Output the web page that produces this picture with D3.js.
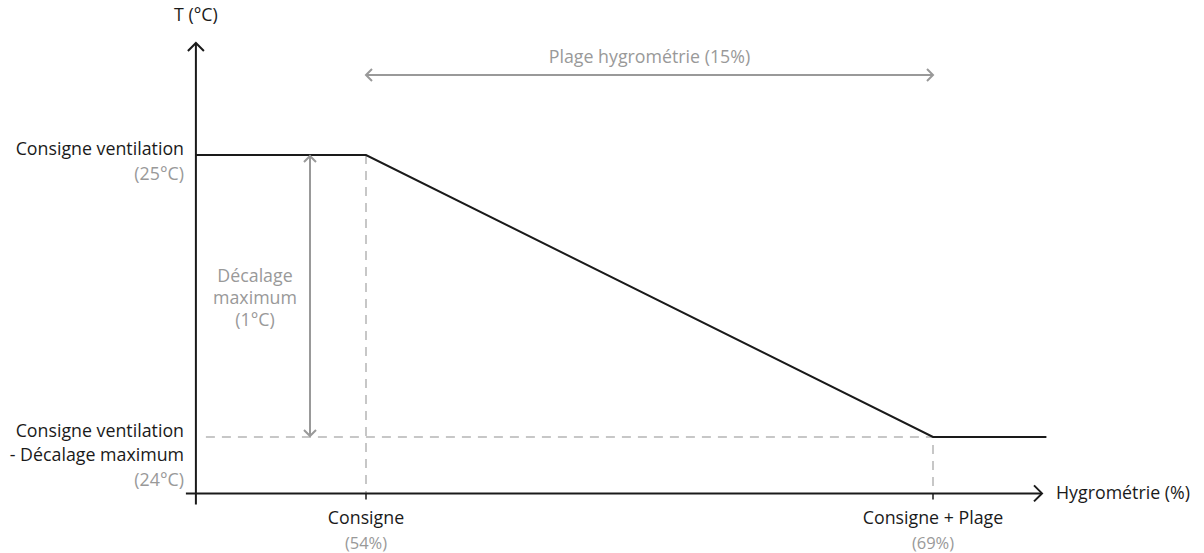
<!DOCTYPE html>
<html>
<head>
<meta charset="utf-8">
<script src="https://cdn.jsdelivr.net/npm/d3@7"></script>
<style>
  html, body { margin: 0; padding: 0; background: #fff; }
  svg { display: block; }
  text { font-family: "Open Sans", "Noto Sans", sans-serif; font-size: 17.8px; }
</style>
</head>
<body>
<svg id="chart" width="1204" height="553"></svg>
<script>
// Temperature setpoint versus humidity
const hygro = [49.5, 54, 69, 72];          // %
const temp  = [25, 25, 24, 24];            // °C
const xTicks = [54, 69];
const xTickLabels = ["Consigne", "Consigne + Plage"];
const xTickValues = ["(54%)", "(69%)"];
const yLevels = [25, 24];
const yLabels = [["Consigne ventilation"], ["Consigne ventilation", "- Décalage maximum"]];
const yValues = ["(25°C)", "(24°C)"];
const rangeLabel = "Plage hygrométrie (15%)";
const offsetLabel = ["Décalage", "maximum", "(1°C)"];

const svg = d3.select("#chart");
const x = d3.scaleLinear().domain([54, 69]).range([366, 933]);
const y = d3.scaleLinear().domain([25, 24]).range([155, 437]);

const x0 = x(49.5);            // vertical axis position
const yAxisPos = y(23.8);      // horizontal axis position
const dark = "#1a1a1a", grey = "#999", light = "#b5b5b5";

function chevron(px, py, dir, color, size) {
  // open arrow head pointing in direction dir ("up","right","left","down")
  const s = size;
  let pts;
  if (dir === "up") pts = [[px - s, py + s], [px, py], [px + s, py + s]];
  if (dir === "down") pts = [[px - s, py - s], [px, py], [px + s, py - s]];
  if (dir === "right") pts = [[px - s, py - s], [px, py], [px - s, py + s]];
  if (dir === "left") pts = [[px + s, py - s], [px, py], [px + s, py + s]];
  svg.append("path").attr("d", d3.line()(pts))
    .attr("fill", "none").attr("stroke", color).attr("stroke-width", 2);
}

// Dashed reference lines
svg.append("line")
  .attr("x1", x0 + 10).attr("x2", x(69)).attr("y1", y(24)).attr("y2", y(24))
  .attr("stroke", light).attr("stroke-width", 1.5).attr("stroke-dasharray", "9,7");
svg.append("line")
  .attr("x1", x(54)).attr("x2", x(54)).attr("y1", y(25)).attr("y2", yAxisPos)
  .attr("stroke", light).attr("stroke-width", 1.5).attr("stroke-dasharray", "9,7");
svg.append("line")
  .attr("x1", x(69)).attr("x2", x(69)).attr("y1", y(24) + 8).attr("y2", yAxisPos)
  .attr("stroke", light).attr("stroke-width", 1.5).attr("stroke-dasharray", "9,7");

// Axes
svg.append("line").attr("x1", x0).attr("x2", x0).attr("y1", 43).attr("y2", yAxisPos + 11)
  .attr("stroke", dark).attr("stroke-width", 2);
chevron(x0, 43, "up", dark, 8);
svg.append("line").attr("x1", x0 - 10).attr("x2", 1042).attr("y1", yAxisPos).attr("y2", yAxisPos)
  .attr("stroke", dark).attr("stroke-width", 2);
chevron(1042, yAxisPos, "right", dark, 8);

// x ticks
svg.selectAll(".tick").data(xTicks).join("line")
  .attr("x1", d => x(d)).attr("x2", d => x(d))
  .attr("y1", yAxisPos).attr("y2", yAxisPos + 6)
  .attr("stroke", dark).attr("stroke-width", 1.5);

// Curve
svg.append("path")
  .datum(hygro.map((h, i) => [h, temp[i]]))
  .attr("d", d3.line().x(d => x(d[0])).y(d => y(d[1])))
  .attr("fill", "none").attr("stroke", dark).attr("stroke-width", 2);

// Range arrow (humidity band)
const arrowY = 75;
svg.append("line").attr("x1", x(54)).attr("x2", x(69)).attr("y1", arrowY).attr("y2", arrowY)
  .attr("stroke", grey).attr("stroke-width", 2);
chevron(x(54), arrowY, "left", grey, 6);
chevron(x(69), arrowY, "right", grey, 6);
svg.append("text").attr("x", (x(54) + x(69)) / 2).attr("y", 63)
  .attr("text-anchor", "middle").attr("fill", grey).text(rangeLabel);

// Offset arrow (vertical)
const offX = 310;
svg.append("line").attr("x1", offX).attr("x2", offX).attr("y1", y(25) + 1).attr("y2", y(24) - 1)
  .attr("stroke", grey).attr("stroke-width", 2);
chevron(offX, y(25) + 1, "up", grey, 6);
chevron(offX, y(24) - 1, "down", grey, 6);
svg.append("text").attr("text-anchor", "middle").attr("fill", grey)
  .selectAll("tspan").data(offsetLabel).join("tspan")
  .attr("x", 255).attr("y", (d, i) => 282 + i * 22).text(d => d);

// y labels
const yl = svg.append("g").attr("text-anchor", "end");
yLevels.forEach((lv, k) => {
  const lines = yLabels[k];
  const start = y(lv);
  lines.forEach((t, i) => {
    yl.append("text").attr("x", 184).attr("y", start + i * 24).attr("fill", dark).text(t);
  });
  yl.append("text").attr("x", 184).attr("y", start + lines.length * 24 + 1)
    .attr("fill", grey).text(yValues[k]);
});

// x labels
xTicks.forEach((v, i) => {
  svg.append("text").attr("x", x(v)).attr("y", 524).attr("text-anchor", "middle")
    .attr("fill", dark).text(xTickLabels[i]);
  svg.append("text").attr("x", x(v)).attr("y", 549).attr("text-anchor", "middle")
    .attr("fill", grey).style("font-size", "16.5px").text(xTickValues[i]);
});

// Axis titles
svg.append("text").attr("x", 1056).attr("y", yAxisPos + 6).attr("fill", dark).text("Hygrométrie (%)");
svg.append("text").attr("x", x0).attr("y", 21).attr("text-anchor", "middle").attr("fill", dark).text("T (°C)");
</script>
</body>
</html>
